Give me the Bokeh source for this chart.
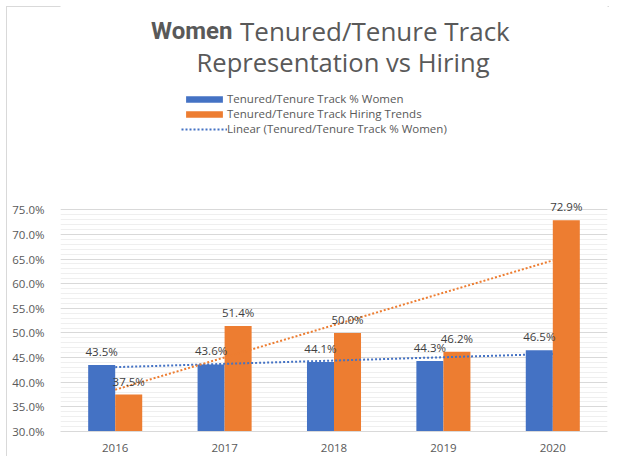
import numpy as np
from bokeh.plotting import figure
from bokeh.core.properties import value
from bokeh.models import (ColumnDataSource, FactorRange, Range1d, SingleIntervalTicker,
                          PrintfTickFormatter, LabelSet, Label, Legend, LegendItem)
from bokeh.transform import dodge
from bokeh.embed import file_html
from bokeh.resources import INLINE

# ---- data ----
years = ["2016", "2017", "2018", "2019", "2020"]
pct_women = [43.5, 43.6, 44.1, 44.3, 46.5]
hiring = [37.5, 51.4, 50.0, 46.2, 72.9]
y_start, y_end, y_step = 30, 75, 5

BLUE = "#4472C4"
ORANGE = "#ED7D31"
GRAY_TXT = "#595959"
LBL_TXT = "#404040"
FONT = "Open Sans"
BOLD_FONT = "Liberation Sans Narrow, Roboto"

idx = np.arange(len(years))
trend_w = np.polyval(np.polyfit(idx, pct_women, 1), idx)
trend_h = np.polyval(np.polyfit(idx, hiring, 1), idx)

src = ColumnDataSource(dict(
    year=years, women=pct_women, hiring=hiring,
    women_lbl=[f"{v:.1f}%" for v in pct_women],
    hiring_lbl=[f"{v:.1f}%" for v in hiring],
    trend_w=list(trend_w), trend_h=list(trend_h),
))

# frame spans the full height; the value axis occupies its lower part (30%..75%)
FRAME_H = 431
PX_PER_UNIT = 221.7 / (y_end - y_start)
y_top = y_start + FRAME_H / PX_PER_UNIT

p = figure(width=609, height=456,
           x_range=FactorRange(factors=years, range_padding=0),
           y_range=Range1d(y_start, y_top),
           output_backend="svg", toolbar_location=None,
           min_border_left=60, min_border_right=2,
           min_border_top=0, min_border_bottom=25)
p.outline_line_color = None
p.border_fill_color = None
p.styles = {"box-shadow": "inset 6px 6px 0 0 #ffffff, inset 7px 7px 0 0 #d9d9d9"}

bw = 0.247
rw = p.vbar(x=dodge("year", -bw / 2, range=p.x_range), top="women", bottom=y_start,
            width=bw, fill_color=BLUE, line_color=None, source=src)
rh = p.vbar(x=dodge("year", bw / 2, range=p.x_range), top="hiring", bottom=y_start,
            width=bw, fill_color=ORANGE, line_color=None, source=src)
lw = p.line(x="year", y="trend_w", source=src, line_color=BLUE, line_width=2, line_dash="2 2")
lh = p.line(x="year", y="trend_h", source=src, line_color=ORANGE, line_width=2, line_dash="2 2")

for col, lbl, off in (("women", "women_lbl", -bw / 2), ("hiring", "hiring_lbl", bw / 2)):
    p.add_layout(LabelSet(x=dodge("year", off, range=p.x_range), y=col, text=lbl, source=src,
                          text_align="center", text_baseline="alphabetic", y_offset=9,
                          text_font=value(FONT), text_font_size=value("11.5px"),
                          text_color=LBL_TXT))

# axes
p.yaxis.bounds = (y_start, y_end)
p.yaxis.ticker = SingleIntervalTicker(interval=y_step, num_minor_ticks=5)
p.yaxis.formatter = PrintfTickFormatter(format="%.1f%%")
p.yaxis.axis_line_color = None
p.yaxis.major_tick_line_color = None
p.yaxis.minor_tick_line_color = None
p.yaxis.major_label_standoff = 10
p.yaxis.major_label_text_font = FONT
p.yaxis.major_label_text_font_size = "11.5px"
p.yaxis.major_label_text_color = GRAY_TXT

p.xaxis.axis_line_color = "#d9d9d9"
p.xaxis.major_tick_line_color = None
p.xaxis.minor_tick_line_color = None
p.xaxis.major_label_standoff = 6
p.xaxis.major_label_text_font = FONT
p.xaxis.major_label_text_font_size = "11.5px"
p.xaxis.major_label_text_color = GRAY_TXT

p.xgrid.grid_line_color = None
p.ygrid.bounds = (y_start, y_end)
p.ygrid.grid_line_color = "#d9d9d9"
p.ygrid.minor_grid_line_color = "#efefef"

# title (screen units relative to plot frame)
p.add_layout(Label(x=172, y=401, x_units="screen", y_units="screen", text="Women",
                   text_align="right", text_baseline="alphabetic", text_font=BOLD_FONT,
                   text_font_style="bold", text_font_size="24px", text_color=GRAY_TXT))
p.add_layout(Label(x=179.5, y=401, x_units="screen", y_units="screen", text="Tenured/Tenure Track",
                   text_align="left", text_baseline="alphabetic", text_font=FONT,
                   text_font_size="26px", text_color=GRAY_TXT))
p.add_layout(Label(x=282.5, y=369, x_units="screen", y_units="screen", text="Representation vs Hiring",
                   text_align="center", text_baseline="alphabetic", text_font=FONT,
                   text_font_size="25.6px", text_color=GRAY_TXT))

legend = Legend(items=[
    LegendItem(label="Tenured/Tenure Track % Women", renderers=[rw]),
    LegendItem(label="Tenured/Tenure Track Hiring Trends", renderers=[rh]),
    LegendItem(label="Linear (Tenured/Tenure Track % Women)", renderers=[lw]),
], location=(121, 295), glyph_width=46, glyph_height=8, label_standoff=0, spacing=0,
    padding=0, margin=0, border_line_color=None, background_fill_alpha=0,
    label_text_font=FONT, label_text_font_size="11.5px", label_text_color=GRAY_TXT,
    label_height=12)
p.add_layout(legend, "center")

open("out.html", "w").write(file_html(p, INLINE))
